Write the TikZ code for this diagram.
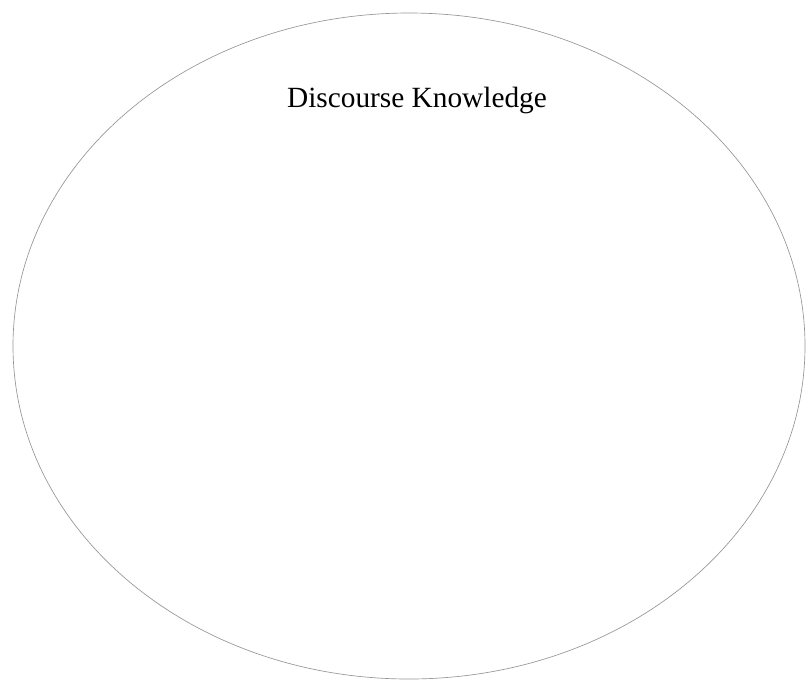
\documentclass[tikz,border=0pt]{standalone}
\usepackage{fontspec}
\setmainfont{Liberation Serif}
\usetikzlibrary{positioning}
\definecolor{rim}{RGB}{150,150,150}

\begin{document}
\begin{tikzpicture}[
    x=0.75pt, y=-0.75pt,
    dkarea/.style={draw=rim, line width=0.5pt},
    dktitle/.style={font=\fontsize{22}{24}\selectfont, anchor=base, inner sep=0pt}
]
\useasboundingbox (0,0) rectangle (806,679);

% Outer area
\draw[dkarea] (409,346) ellipse [x radius=396, y radius=333];

% Label
\node[dktitle] (dk) at (417,107) {Discourse Knowledge};

\end{tikzpicture}
\end{document}
